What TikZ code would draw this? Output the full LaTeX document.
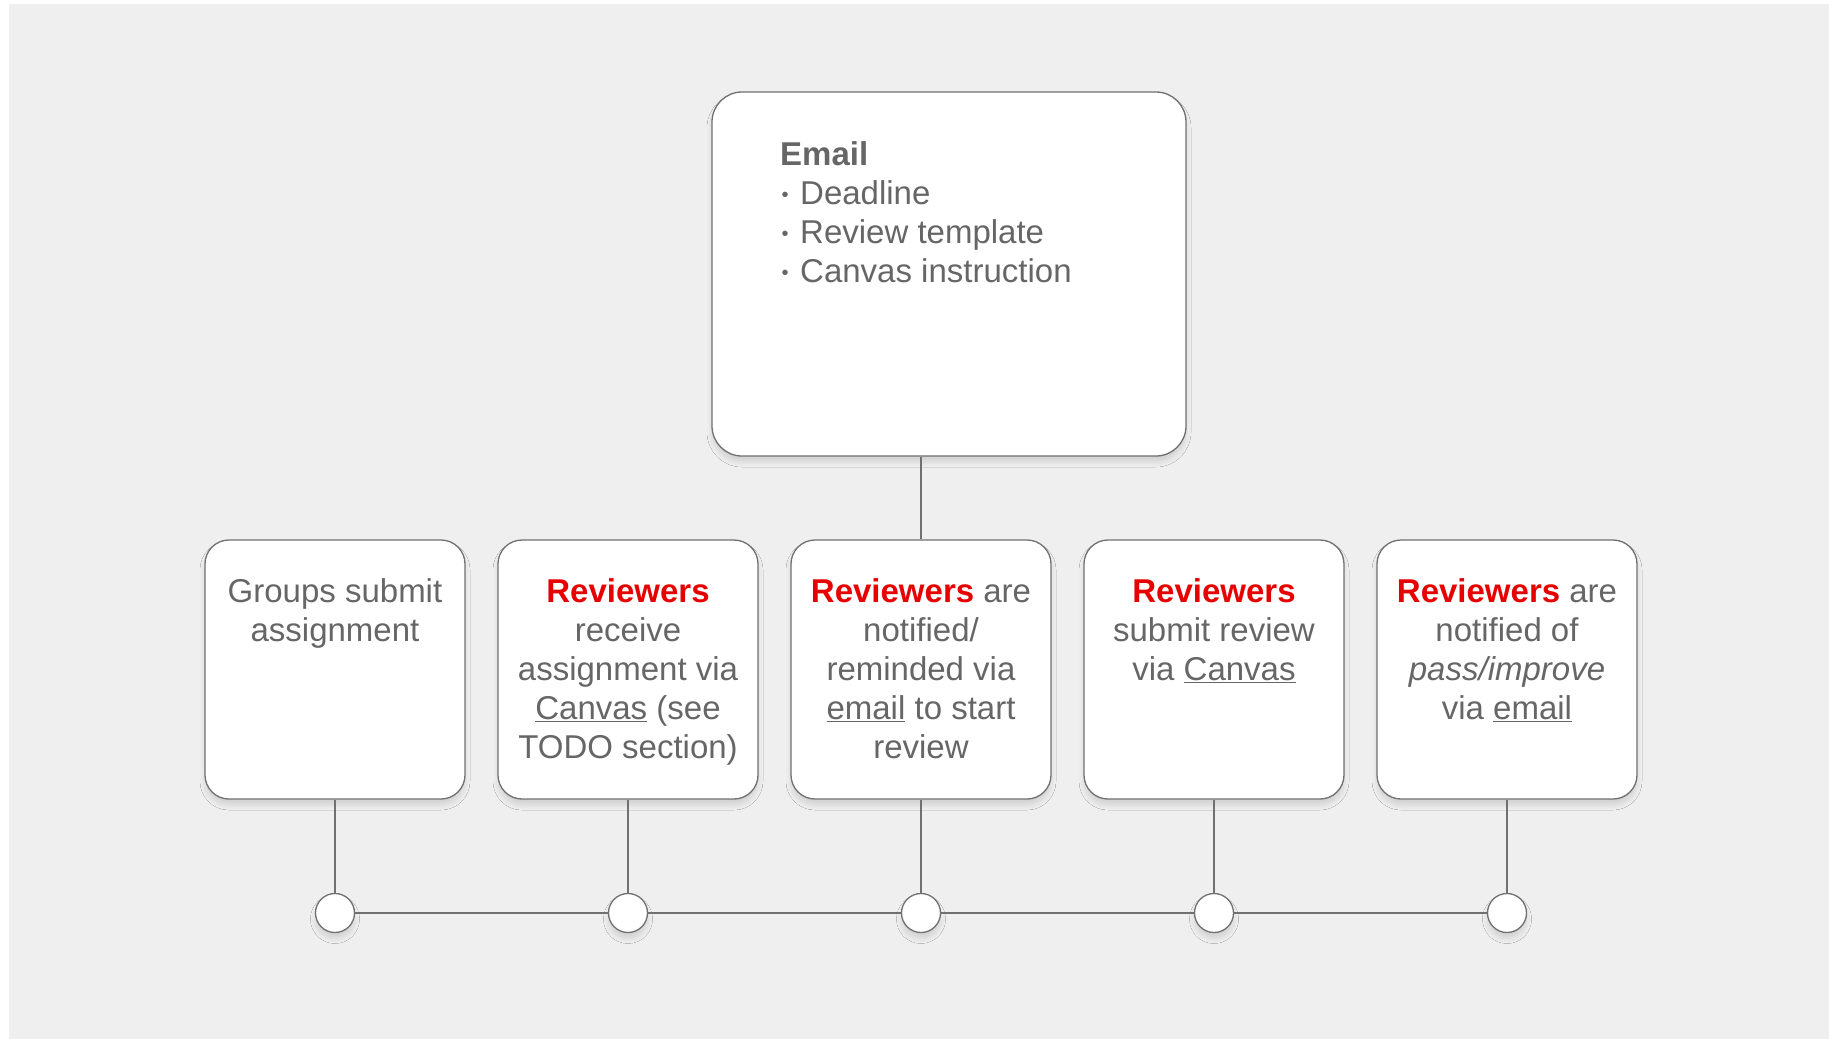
\documentclass[tikz,border=0pt]{standalone}
\usepackage{fontspec}
\setmainfont{Liberation Sans}
\usetikzlibrary{shadows.blur}
\definecolor{bgc}{HTML}{EFEFEF}
\definecolor{txtc}{HTML}{666666}
\definecolor{lnc}{HTML}{707070}
\definecolor{redc}{HTML}{E60000}
\newcommand{\rvw}{\textcolor{redc}{\textbf{Reviewers}}}
\newcommand{\smbul}{\makebox[20pt][l]{\hspace{1.5pt}\raisebox{3.5pt}{\fontsize{20}{20}\selectfont •}}}
\tikzset{
  softshadow/.style={blur shadow={shadow xshift=0pt, shadow yshift=-6pt, shadow blur radius=5pt, shadow opacity=12}},
  card/.style={draw=lnc, line width=1.3pt, fill=white, rounded corners=24pt,
    minimum width=260pt, minimum height=259pt, inner sep=0pt, softshadow},
  bigcard/.style={card, rounded corners=30pt, minimum width=474pt, minimum height=364pt},
  dot/.style={circle, draw=lnc, line width=1.3pt, fill=white, minimum size=39pt, inner sep=0pt, softshadow},
  cardtext/.style={font=\fontsize{33}{39}\selectfont, text=txtc, align=center, inner sep=0pt, anchor=north},
  link/.style={draw=lnc, line width=1.3pt}
}
\begin{document}
\begin{tikzpicture}[x=1pt,y=-1pt]
\useasboundingbox (0,0) rectangle (1829,1039);
\fill[white] (0,0) rectangle (1829,1039);
\fill[bgc] (9,4) rectangle (1829,1039);

% top card
\node[bigcard] (top) at (949,274) {};
\node[font=\fontsize{33}{39}\selectfont, text=txtc, align=left, inner sep=0pt, anchor=north west]
  (toptext) at (780,138) {\strut\textbf{Email}\\\smbul Deadline\\\smbul Review template\\\smbul Canvas instruction};

% bottom cards
\node[card] (b1) at (335,669.5) {};
\node[card] (b2) at (628,669.5) {};
\node[card] (b3) at (921,669.5) {};
\node[card] (b4) at (1214,669.5) {};
\node[card] (b5) at (1507,669.5) {};

\node[cardtext] (t1) at (335,575) {\strut Groups submit\\assignment};
\node[cardtext] (t2) at (628,575) {\strut\rvw\\receive\\assignment via\\\underline{Canvas} (see\\TODO section)};
\node[cardtext] (t3) at (921,575) {\strut\rvw{} are\\notified/\\reminded via\\\underline{email} to start\\review};
\node[cardtext] (t4) at (1214,575) {\strut\rvw\\submit review\\via \underline{Canvas}};
\node[cardtext] (t5) at (1507,575) {\strut\rvw{} are\\notified of\\\textit{pass/improve}\\via \underline{email}};

% timeline dots
\node[dot] (c1) at (335,913) {};
\node[dot] (c2) at (628,913) {};
\node[dot] (c3) at (921,913) {};
\node[dot] (c4) at (1214,913) {};
\node[dot] (c5) at (1507,913) {};

% connectors
\draw[link] (top.south -| b3.north) -- (b3.north);
\draw[link] (b1) -- (c1);
\draw[link] (b2) -- (c2);
\draw[link] (b3) -- (c3);
\draw[link] (b4) -- (c4);
\draw[link] (b5) -- (c5);
\draw[link] (c1) -- (c2);
\draw[link] (c2) -- (c3);
\draw[link] (c3) -- (c4);
\draw[link] (c4) -- (c5);
\end{tikzpicture}
\end{document}
